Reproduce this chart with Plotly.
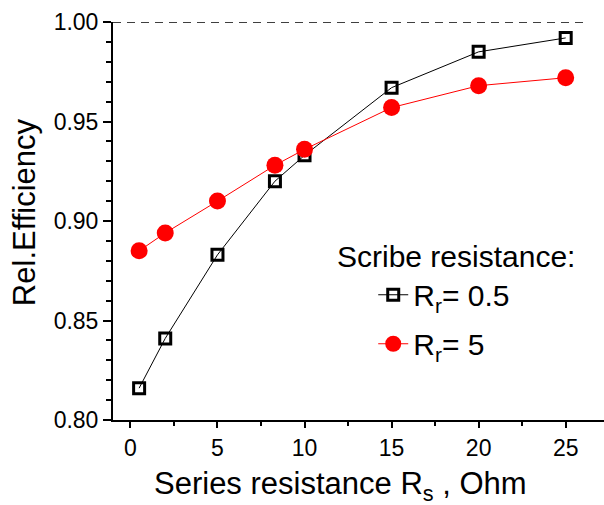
import plotly.graph_objects as go

rs = [0.5, 2, 5, 8.3, 10, 15, 20, 25]
eff_r05 = [0.816, 0.841, 0.883, 0.920, 0.933, 0.967, 0.985, 0.992]
eff_r5 = [0.885, 0.894, 0.910, 0.928, 0.936, 0.957, 0.968, 0.972]
names = ["R<sub>r</sub>= 0.5", "R<sub>r</sub>= 5"]
legend_title = "Scribe resistance:"
x_title = "Series resistance R<sub>s</sub> , Ohm"
y_title = "Rel.Efficiency"

FONT = "Liberation Sans, Arial, sans-serif"

fig = go.Figure()
fig.add_trace(go.Scatter(
    x=rs, y=eff_r05, mode="lines+markers", name=names[0], legendgroup="a",
    line=dict(color="black", width=1),
    marker=dict(symbol="square-open", size=11, color="black", line=dict(width=3, color="black")),
))
fig.add_trace(go.Scatter(
    x=rs, y=eff_r5, mode="lines+markers", name=names[1], legendgroup="b",
    line=dict(color="red", width=1),
    marker=dict(symbol="circle", size=17, color="red", line=dict(width=0)),
))

fig.add_shape(type="line", xref="x", yref="y", x0=-1, x1=26, y0=1.0, y1=1.0,
              line=dict(color="black", width=1.5, dash="8px,6px"), layer="below")

fig.add_annotation(text=legend_title, xref="paper", yref="paper", x=0.452, y=0.41,
                   xanchor="left", yanchor="middle", showarrow=False,
                   font=dict(family=FONT, size=30, color="black"))
fig.add_annotation(text=x_title, xref="paper", yref="paper", x=0.464, y=-0.166,
                   xanchor="center", yanchor="middle", showarrow=False,
                   font=dict(family=FONT, size=31, color="black"))
fig.add_annotation(text=y_title, xref="paper", yref="paper", x=-0.181, y=0.5226,
                   xanchor="center", yanchor="middle", showarrow=False, textangle=-90,
                   font=dict(family=FONT, size=31, color="black"))

fig.update_layout(
    width=604, height=505,
    margin=dict(l=113, r=0, t=22, b=85),
    paper_bgcolor="white", plot_bgcolor="white",
    font=dict(family=FONT, color="black"),
    showlegend=True,
    legend=dict(x=0.53, y=0.38, xanchor="left", yanchor="top",
                font=dict(family=FONT, size=30, color="black"),
                bgcolor="rgba(0,0,0,0)", tracegroupgap=7, itemwidth=30),
)
fig.update_xaxes(
    range=[-1, 27.2], showgrid=False, zeroline=False,
    showline=True, linecolor="black", linewidth=2,
    ticks="outside", tickwidth=2, ticklen=6, tickcolor="black", dtick=5, tick0=0,
    minor=dict(ticks="outside", ticklen=4, tickwidth=1.5, tickcolor="black", dtick=2.5, tick0=0),
    tickfont=dict(family=FONT, size=23, color="black"),
)
fig.update_yaxes(
    range=[0.80, 1.00], showgrid=False, zeroline=False,
    showline=True, linecolor="black", linewidth=2,
    ticks="outside", tickwidth=2, ticklen=8, tickcolor="black", dtick=0.05, tick0=0.8,
    tickformat=".2f",
    minor=dict(ticks="outside", ticklen=5, tickwidth=1.5, tickcolor="black", dtick=0.01, tick0=0.8),
    tickfont=dict(family=FONT, size=23, color="black"),
)

fig.write_html("out.html")
